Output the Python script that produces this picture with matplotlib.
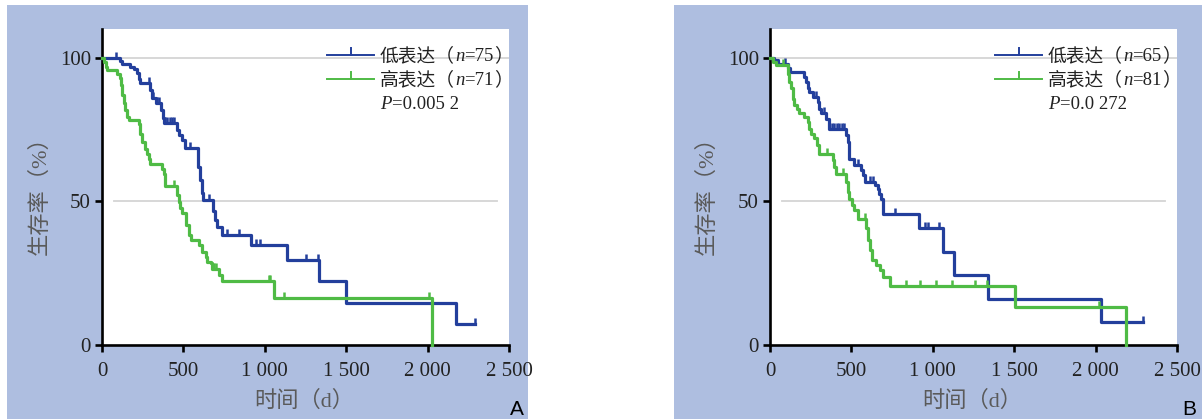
import numpy as np
import matplotlib.pyplot as plt
from matplotlib.patches import Rectangle
from matplotlib.lines import Line2D

# ---- data ----
# Panel A
a_low_t = [0, 108, 122, 174, 194, 214, 225, 235, 296, 306, 330, 364, 372, 378, 459, 470, 490, 511,
           588, 592, 603, 613, 623, 684, 694, 704, 739, 913, 1135, 1334, 1498, 2176]
a_low_s = [100, 98.7, 97.7, 96.9, 96.0, 94.6, 92.5, 91.1, 88.8, 85.9, 84.2, 81.8, 78.9, 77.2, 74.8, 73.1, 71.4, 68.5,
           66.1, 62.1, 57.4, 52.8, 50.5, 46.5, 43.5, 41.0, 38.3, 34.8, 29.6, 22.2, 14.7, 7.4]
a_low_cens = [87, 286, 315, 340, 352, 385, 400, 415, 430, 445, 540, 658, 770, 842, 944, 969, 1256, 1324, 2289]

a_high_t = [0, 10, 25, 31, 92, 113, 119, 123, 133, 144, 154, 164, 226, 236, 246, 267, 277, 287, 297,
            369, 379, 390, 461, 472, 482, 492, 513, 534, 544, 595, 616, 636, 647, 667, 677, 718, 736, 1058, 2026]
a_high_s = [100, 98.6, 96.9, 95.7, 94.5, 92.8, 90.5, 87.0, 84.1, 81.7, 79.4, 78.3, 77.1, 73.6, 70.7, 68.4, 66.6, 64.9, 63.1,
            61.4, 59.6, 55.3, 52.3, 49.8, 47.7, 45.9, 41.8, 38.3, 36.6, 34.8, 32.5, 30.7, 29.0, 28.4, 26.6, 24.3, 22.2, 16.4, 0]
a_high_cens = [441, 680, 690, 700, 1026, 1032, 1119, 2011]

# Panel B
b_low_t = [0, 27, 47, 109, 123, 211, 221, 232, 242, 262, 293, 303, 314, 345, 365, 467, 478, 484, 519,
           560, 570, 586, 642, 662, 672, 683, 693, 915, 1060, 1131, 1338, 2036]
b_low_s = [100, 99.2, 97.7, 96.3, 94.9, 93.3, 91.6, 89.3, 88.1, 86.4, 84.7, 82.3, 80.6, 78.5, 75.3, 73.0, 70.7, 64.9, 62.6,
           60.8, 59.1, 56.7, 55.6, 54.4, 52.7, 50.9, 45.7, 40.6, 32.4, 24.4, 16.1, 7.9]
b_low_cens = [94, 280, 330, 380, 395, 410, 425, 440, 455, 540, 615, 630, 766, 955, 968, 1041, 2289]

b_high_t = [0, 16, 37, 109, 119, 129, 139, 150, 164, 176, 211, 232, 242, 252, 273, 287, 303, 385, 396, 406,
            467, 478, 488, 504, 519, 539, 591, 602, 612, 629, 654, 675, 696, 740, 1505, 2186]
b_high_s = [100, 98.6, 97.4, 94.5, 91.6, 89.3, 85.8, 83.5, 82.3, 80.6, 79.4, 77.7, 75.3, 73.6, 71.9, 69.5, 66.6, 64.3, 62.0, 59.6,
            56.7, 53.3, 50.9, 48.6, 46.9, 44.0, 40.6, 36.5, 33.0, 29.5, 27.8, 26.0, 23.7, 20.5, 13.3, 0]
b_high_cens = [80, 350, 447, 586, 837, 920, 1022, 1119, 1258, 1330, 2022]

groups = ['低表达', '高表达']
a_n = [75, 71]
b_n = [65, 81]
a_p = '0.005 2'
b_p = '0.0 272'

xticks = [0, 500, 1000, 1500, 2000, 2500]
xticklabels = ['0', '500', '1 000', '1 500', '2 000', '2 500']
yticks = [0, 50, 100]

# ---- style ----
W, H = 1202, 419
BG = '#aebee0'
BLUE = '#233f9c'
GREEN = '#4fbb45'
FAM = ['Liberation Serif', 'Noto Sans CJK SC']

fig = plt.figure(figsize=(W / 100, H / 100), dpi=100)
fig.patch.set_facecolor('white')
fig.patches.append(Rectangle((7 / W, 0), 521 / W, 414 / H, transform=fig.transFigure,
                             facecolor=BG, edgecolor='none', zorder=-5))
fig.patches.append(Rectangle((674 / W, 0), 528 / W, 414 / H, transform=fig.transFigure,
                             facecolor=BG, edgecolor='none', zorder=-5))

renderer = fig.canvas.get_renderer()


def rich_text(x, y, parts, size=13.5):
    # parts: list of (string, style); x, y in pixels (y = baseline from top)
    for s, st in parts:
        t = fig.text(x / W, 1 - y / H, s, fontsize=size, family=FAM, style=st,
                     va='baseline', ha='left', color='#222222')
        x += t.get_window_extent(renderer).width


def km(ax, times, surv, cens, end, color):
    times = list(times)
    surv = list(surv)
    if end is not None:
        times = times + [end]
        surv = surv + [surv[-1]]
    ax.step(times, surv, where='post', color=color, lw=2.3, zorder=3, clip_on=False)
    idx = np.searchsorted(np.array(times), np.array(cens), side='right') - 1
    cs = np.array(surv)[idx]
    ax.plot(cens, cs, linestyle='none', marker=[(0, 0), (0, 1)], markersize=9,
            markeredgewidth=1.8, color=color, zorder=3, clip_on=False)


def panel(left_px, low, high, ns, p, letter, letter_x, ylab_x):
    ax = fig.add_axes([left_px / W, (H - 345) / H, 407 / W, 316 / H])
    ax.set_facecolor('white')
    ax.set_xlim(0, 2500)
    ax.set_ylim(0, 110)
    for s in ['top', 'right']:
        ax.spines[s].set_visible(False)
    for s in ['left', 'bottom']:
        ax.spines[s].set_linewidth(1.9)
        ax.spines[s].set_color('black')
    ax.axhline(100, color='#d4d4d4', lw=1.3, zorder=1)
    ax.axhline(50, xmin=0.03, xmax=0.97, color='#d4d4d4', lw=1.3, zorder=1)

    ax.set_xticks(xticks)
    ax.set_xticklabels(xticklabels)
    ax.set_yticks(yticks)
    ax.tick_params(direction='out', length=5, width=1.9, labelsize=15,
                   labelcolor='#222222')
    ax.tick_params(axis='x', pad=7)
    ax.tick_params(axis='y', pad=3)
    for lab in ax.get_xticklabels() + ax.get_yticklabels():
        lab.set_family(FAM)

    km(ax, low[0], low[1], low[2], low[3], BLUE)
    km(ax, high[0], high[1], high[2], high[3], GREEN)

    ax.set_ylabel('生存率（%）', fontsize=16, color='#5a5a5a', family=FAM)
    ax.yaxis.set_label_coords(ylab_x, 0.49)
    ax.set_xlabel('时间（d）', fontsize=16, color='#5a5a5a', family=FAM)
    ax.xaxis.set_label_coords(0.496, -0.145)

    # legend
    lx0 = left_px + 225
    lx1 = lx0 + 47
    for k, (col, yy) in enumerate([(BLUE, 55), (GREEN, 79)]):
        fig.add_artist(Line2D([lx0 / W, lx1 / W], [1 - yy / H, 1 - yy / H],
                              transform=fig.transFigure, color=col, lw=1.4))
        xm = (lx0 + lx1) / 2
        fig.add_artist(Line2D([xm / W, xm / W], [1 - yy / H, 1 - (yy - 7) / H],
                              transform=fig.transFigure, color=col, lw=1.4))
        rich_text(lx1 + 6, yy + 6, [(groups[k] + '（', 'normal'), ('n', 'italic'),
                                    ('=%d' % ns[k], 'normal'), ('）', 'normal')])
    rich_text(lx1 + 6, 109, [('P', 'italic'), ('=' + p, 'normal')])

    fig.text(letter_x / W, 1 - 409 / H, letter, fontsize=15, family='Liberation Sans',
             ha='center', va='center', color='black')
    return ax


panel(102, (a_low_t, a_low_s, a_low_cens, 2289), (a_high_t, a_high_s, a_high_cens, None),
      a_n, a_p, 'A', 517, -0.125)
panel(770, (b_low_t, b_low_s, b_low_cens, 2289), (b_high_t, b_high_s, b_high_cens, None),
      b_n, b_p, 'B', 1189, -0.128)

fig.savefig('out.png', dpi=100, facecolor='white')
